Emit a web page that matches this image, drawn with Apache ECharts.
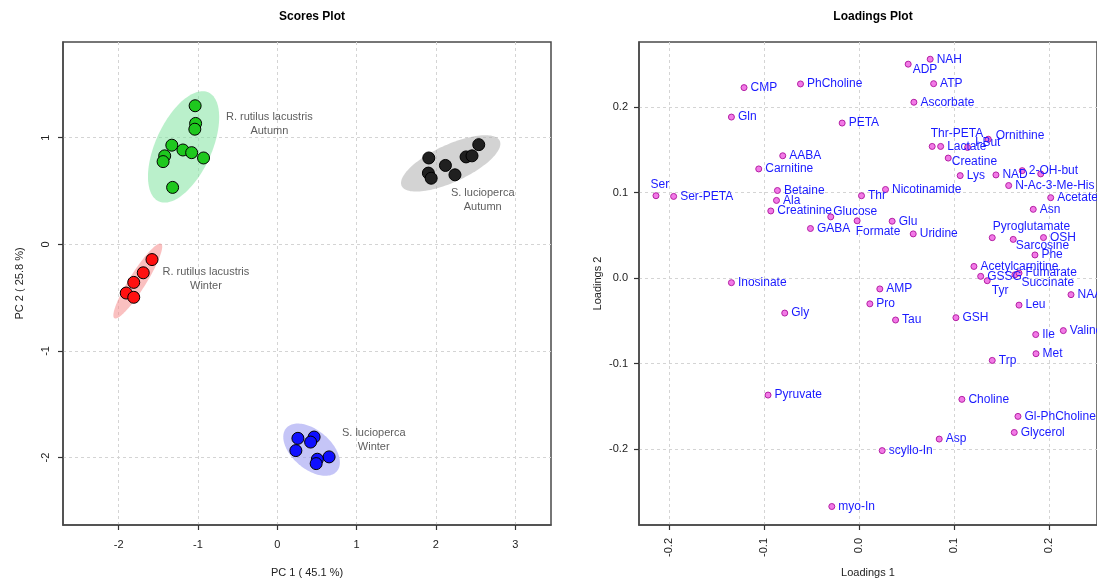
<!DOCTYPE html>
<html>
<head>
<meta charset="utf-8">
<title>Scores / Loadings Plot</title>
<script src="https://cdn.jsdelivr.net/npm/echarts@6/dist/echarts.min.js"></script>
<style>
	html, body { margin: 0; padding: 0; background: #fff; }
	#chart { width: 1097px; height: 583px; }
</style>
</head>
<body>
<div id="chart"></div>
<script>
/* ---- scores (PC1, PC2) per group ---- */
var rrAutumn = [[-1.036, 1.30], [-1.03, 1.134], [-1.04, 1.08], [-1.33, 0.93], [-1.19, 0.885],
	[-1.08, 0.86], [-1.42, 0.83], [-1.44, 0.776], [-0.93, 0.81], [-1.32, 0.534]];
var rrWinter = [[-1.58, -0.143], [-1.69, -0.267], [-1.81, -0.357], [-1.905, -0.457], [-1.81, -0.497]];
var slAutumn = [[1.91, 0.81], [1.905, 0.668], [1.94, 0.62], [2.12, 0.74], [2.24, 0.652],
	[2.38, 0.82], [2.455, 0.83], [2.54, 0.935]];
var slWinter = [[0.26, -1.82], [0.464, -1.808], [0.42, -1.855], [0.234, -1.935], [0.653, -1.994],
	[0.505, -2.016], [0.49, -2.057]];

var groupNames = ["R. rutilus lacustris\nAutumn", "R. rutilus lacustris\nWinter", "S. lucioperca\nAutumn", "S. lucioperca\nWinter"];
var groupLabelPos = [[-0.10, 1.13], [-0.90, -0.326], [2.59, 0.42], [1.216, -1.835]];

var scoresXTicks = [-2, -1, 0, 1, 2, 3];
var scoresYTicks = [-2, -1, 0, 1];

/* ---- loadings ---- */
var loadingNames = ["Ser", "Ser-PETA", "CMP", "PhCholine", "Gln", "AABA", "Carnitine", "Betaine", "Ala", "Creatinine",
	"Glucose", "GABA", "NAH", "ADP", "ATP", "Ascorbate", "PETA", "Thr-PETA", "Lactate", "I-But",
	"Ornithine", "Creatine", "Lys", "NAD", "2-OH-but", "", "N-Ac-3-Me-His", "Acetate", "Asn", "Thr",
	"Nicotinamide", "Formate", "Glu", "Uridine", "Pyroglutamate", "Sarcosine", "OSH", "Phe", "Acetylcarnitine", "GSSG",
	"Tyr", "Succinate", "Fumarate", "Inosinate", "AMP", "Pro", "Tau", "GSH", "Gly", "Leu",
	"NAA", "Ile", "Valine", "Met", "Trp", "Pyruvate", "Choline", "Gl-PhCholine", "Glycerol", "Asp",
	"scyllo-In", "myo-In"];
var loadingX = [-0.2141, -0.1955, -0.1213, -0.0618, -0.1346, -0.0805, -0.1058, -0.0861, -0.0871, -0.0931,
	-0.0299, -0.0513, 0.0749, 0.0517, 0.0785, 0.0577, -0.0179, 0.0770, 0.0859, 0.1143,
	0.1361, 0.0939, 0.1065, 0.1442, 0.1719, 0.1914, 0.1576, 0.2019, 0.1835, 0.0025,
	0.0278, -0.0021, 0.0348, 0.0570, 0.1403, 0.1624, 0.1943, 0.1853, 0.1210, 0.1281,
	0.1350, 0.1642, 0.1685, -0.1346, 0.0218, 0.0113, 0.0384, 0.1020, -0.0784, 0.1685,
	0.2233, 0.1861, 0.2152, 0.1864, 0.1403, -0.0960, 0.1083, 0.1674, 0.1635, 0.0844,
	0.0243, -0.0288];
var loadingY = [0.0962, 0.0954, 0.2225, 0.2268, 0.1881, 0.1429, 0.1275, 0.1023, 0.0907, 0.0784,
	0.0715, 0.0579, 0.2557, 0.2499, 0.2271, 0.2054, 0.1811, 0.1538, 0.1538, 0.1526,
	0.1622, 0.1402, 0.1197, 0.1205, 0.1255, 0.1217, 0.1081, 0.0939, 0.0803, 0.0962,
	0.1035, 0.0669, 0.0664, 0.0516, 0.0472, 0.0452, 0.0473, 0.0270, 0.0136, 0.0020,
	-0.0031, 0.0038, 0.0058, -0.0054, -0.0127, -0.0301, -0.0490, -0.0463, -0.0409, -0.0316,
	-0.0194, -0.0660, -0.0614, -0.0884, -0.0962, -0.1367, -0.1417, -0.1616, -0.1804, -0.1881,
	-0.2016, -0.2669];

var loadXTicks = [-0.2, -0.1, 0.0, 0.1, 0.2];
var loadYTicks = [-0.2, -0.1, 0.0, 0.1, 0.2];

// label shifts (px) where the original moved labels off the right side
var labelNudge = {
	"Ser": [-12, -11], "ADP": [-2, 6], "Thr-PETA": [-8, -13], "I-But": [1, -5], "Ornithine": [1, -4],
	"Creatine": [-3, 4], "Glucose": [-4, -5], "Formate": [-8, 11], "Pyroglutamate": [-6, -11],
	"Sarcosine": [-4, 6], "Tyr": [-2, 10], "Succinate": [0, 8]
};

var groupColors = ["#1ec81e", "#ff1010", "#202020", "#1010ff"];
var ellipseFills = ["rgba(130,228,160,0.55)", "rgba(245,140,140,0.55)", "rgba(175,175,175,0.55)", "rgba(150,150,240,0.55)"];
var FONT = "Liberation Sans, Arial, Helvetica, sans-serif";

/* 95% confidence ellipse of a point cloud */
var confEllipse = function(pts){
	var n = pts.length, mx = 0, my = 0;
	for (var i = 0; i < n; i++) { mx += pts[i][0]; my += pts[i][1]; }
	mx /= n; my /= n;
	var sxx = 0, syy = 0, sxy = 0;
	for (var i = 0; i < n; i++) {
		var dx = pts[i][0] - mx, dy = pts[i][1] - my;
		sxx += dx * dx; syy += dy * dy; sxy += dx * dy;
	}
	sxx /= (n - 1); syy /= (n - 1); sxy /= (n - 1);
	var a11 = Math.sqrt(sxx), a21 = sxy / a11, a22 = Math.sqrt(Math.max(syy - a21 * a21, 0));
	var t = Math.sqrt(5.991);
	var ring = [];
	for (var k = 0; k < 120; k++) {
		var th = 2 * Math.PI * k / 120, c = Math.cos(th), s = Math.sin(th);
		ring.push([mx + t * a11 * c, my + t * (a21 * c + a22 * s)]);
	}
	return ring;
}

var groups = [rrAutumn, rrWinter, slAutumn, slWinter];
var rings = groups.map(confEllipse);

var axisText = { color: "#222", fontSize: 11, fontFamily: FONT };
var gridLine = { show: true, lineStyle: { color: "#d4d4d4", type: [3, 3], width: 1 } };

var makeAxis = function(idx, min, max, ticks, opts){
	var ax = {
		type: "value", gridIndex: idx, min: min, max: max,
		axisLine: { show: true, onZero: false, lineStyle: { color: "#4a4a4a", width: 1.5 } },
		axisTick: { show: true, inside: false, length: 5, lineStyle: { color: "#333", width: 1.2 }, customValues: ticks },
		axisLabel: Object.assign({ customValues: ticks }, axisText),
		splitLine: gridLine,
		nameLocation: "middle",
		nameTextStyle: { color: "#222", fontSize: 11, fontFamily: FONT }
	};
	for (var k in opts) {
		if (k == "axisLabel") Object.assign(ax.axisLabel, opts[k]);
		else ax[k] = opts[k];
	}
	return ax;
}

var loadData = loadingNames.map(function(n, i){
	var item = { name: n, value: [loadingX[i], loadingY[i]] };
	if (labelNudge[n]) item.label = { offset: labelNudge[n] };
	if (n === "") item.label = { show: false };
	return item;
});

var series = [];
// ellipses first so the points sit on top
series.push({
	type: "custom", xAxisIndex: 0, yAxisIndex: 0, z: 1, silent: true,
	data: groups.map(function(g, i){ return [rings[i][0][0], rings[i][0][1]]; }),
	renderItem: function(params, api){
		var pts = rings[params.dataIndex].map(function(p){ return api.coord(p); });
		return { type: "polygon", shape: { points: pts }, style: { fill: ellipseFills[params.dataIndex] } };
	}
});
groups.forEach(function(g, i){
	series.push({
		type: "scatter", xAxisIndex: 0, yAxisIndex: 0, z: 3,
		data: g, symbolSize: 12,
		itemStyle: { color: groupColors[i], borderColor: "#000", borderWidth: 1, opacity: 1 }
	});
});
series.push({
	type: "scatter", xAxisIndex: 0, yAxisIndex: 0, z: 4, symbolSize: 0, silent: true,
	data: groupLabelPos.map(function(p, i){ return { name: groupNames[i], value: p }; }),
	label: { show: true, position: "inside", formatter: "{b}", color: "#333", fontSize: 11,
		fontFamily: FONT, lineHeight: 14, align: "center" }
});
series.push({
	type: "scatter", xAxisIndex: 1, yAxisIndex: 1, z: 3,
	data: loadData, symbolSize: 6,
	itemStyle: { color: "#f27ae6", borderColor: "#b41fa4", borderWidth: 1, opacity: 1 },
	label: { show: true, position: "right", distance: 3, formatter: "{b}", color: "#1a1aff",
		fontSize: 12, fontFamily: FONT }
});

var chart = echarts.init(document.getElementById("chart"), null, { renderer: "canvas" });
chart.setOption({
	animation: false,
	backgroundColor: "#fff",
	title: [
		{ text: "Scores Plot", left: 307, top: 6, textAlign: "center",
			textStyle: { fontSize: 12, fontWeight: "bold", color: "#000", fontFamily: FONT } },
		{ text: "Loadings Plot", left: 868, top: 6, textAlign: "center",
			textStyle: { fontSize: 12, fontWeight: "bold", color: "#000", fontFamily: FONT } }
	],
	grid: [
		{ left: 63, top: 42, width: 488, height: 487, show: true, borderColor: "#4a4a4a", borderWidth: 1.5, backgroundColor: "transparent" },
		{ left: 639, top: 42, width: 458, height: 487, show: true, borderColor: "#4a4a4a", borderWidth: 1.5, backgroundColor: "transparent" }
	],
	xAxis: [
		makeAxis(0, -2.702, 3.451, scoresXTicks, { name: "PC 1 ( 45.1 %)", nameGap: 42, axisLabel: { margin: 14 } }),
		makeAxis(1, -0.232, 0.2507, loadXTicks, { name: "Loadings 1", nameGap: 42,
			axisLabel: { rotate: 90, margin: 13, formatter: function(v){ return v.toFixed(1); } } })
	],
	yAxis: [
		makeAxis(0, -2.633, 1.898, scoresYTicks, { name: "PC 2 ( 25.8 %)", nameGap: 38, axisLabel: { rotate: 90, margin: 12 } }),
		makeAxis(1, -0.2885, 0.2758, loadYTicks, { name: "Loadings 2", nameGap: 36,
			axisLabel: { margin: 11, formatter: function(v){ return v.toFixed(1); } } })
	],
	series: series
});
</script>
</body>
</html>
